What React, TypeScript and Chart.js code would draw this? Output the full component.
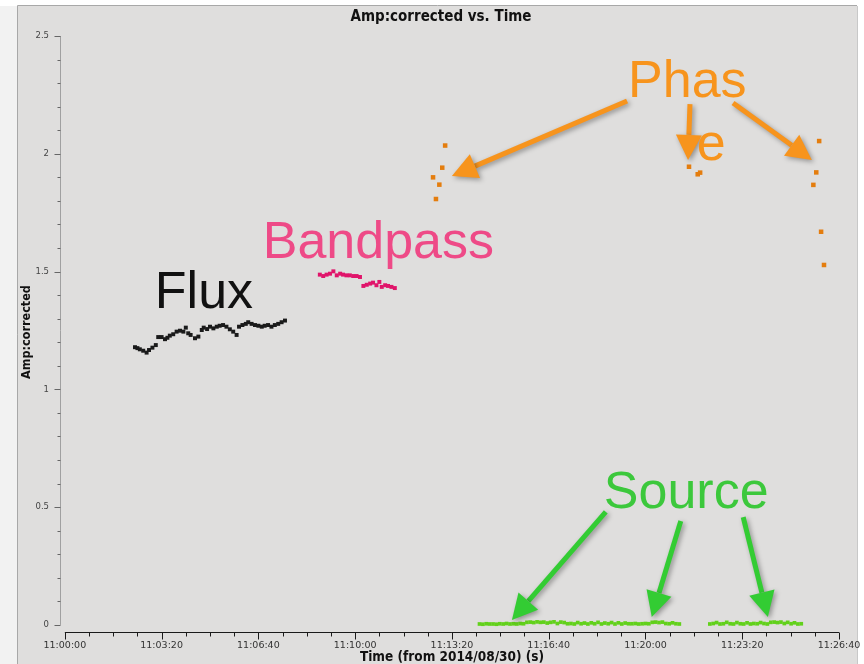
import React, { useEffect, useRef } from 'react';
import { Chart, registerables } from 'chart.js';
Chart.register(...registerables);

// ---- Data (time in seconds after 2014/08/30 11:00:00, amplitude) ----
const fluxTimes = [145,150,155,162,169,174,181,188,193,200,207,212,217,224,231,238,245,250,255,260,269,276,283,287,294,300,307,314,320,327,334,341,348,355,360,367,374,379,386,393,400,407,413,420,427,434,441,448,455];
const fluxAmp = [1.179,1.175,1.170,1.164,1.156,1.167,1.177,1.188,1.222,1.222,1.213,1.219,1.228,1.234,1.245,1.249,1.245,1.262,1.238,1.231,1.217,1.224,1.252,1.262,1.256,1.266,1.259,1.266,1.270,1.273,1.266,1.255,1.245,1.231,1.266,1.273,1.278,1.285,1.278,1.273,1.270,1.266,1.270,1.273,1.266,1.273,1.278,1.285,1.292];

const bandpassTimes = [527,534,541,548,555,562,569,575,582,589,596,603,610,617,624,631,637,644,650,655,662,668,675,682];
const bandpassAmp = [1.487,1.481,1.487,1.491,1.501,1.484,1.491,1.487,1.484,1.484,1.481,1.481,1.477,1.439,1.444,1.449,1.453,1.442,1.456,1.435,1.442,1.439,1.435,1.430];

const phaseTimes = [761,767,774,780,786,1290,1308,1313,1547,1553,1559,1563,1569];
const phaseAmp = [1.900,1.808,1.869,1.941,2.035,1.945,1.913,1.920,1.868,1.921,2.054,1.669,1.528];

const sourceTimes1 = [857,864,871,878,885,892,899,906,913,920,927,934,941,948,955,962,969,976,983,990,997,1004,1011,1018,1025,1032,1039,1046,1053,1060,1067,1074,1081,1088,1095,1102,1109,1116,1123,1130,1137,1144,1151,1158,1165,1172,1179,1186,1193,1200,1207,1214,1221,1228,1235,1242,1249,1256,1263,1270];
const sourceAmp1 = [0.004,0.003,0.005,0.004,0.004,0.003,0.005,0.004,0.006,0.004,0.005,0.004,0.006,0.005,0.011,0.012,0.010,0.013,0.011,0.012,0.008,0.011,0.013,0.006,0.012,0.010,0.005,0.006,0.004,0.010,0.005,0.008,0.004,0.009,0.005,0.011,0.004,0.008,0.005,0.010,0.004,0.009,0.004,0.008,0.005,0.005,0.006,0.004,0.005,0.006,0.005,0.011,0.012,0.010,0.012,0.006,0.005,0.009,0.005,0.004];
const sourceTimes2 = [1333,1340,1347,1354,1361,1368,1375,1382,1389,1396,1403,1410,1417,1424,1431,1438,1445,1452,1459,1466,1473,1480,1487,1494,1501,1508,1515,1522];
const sourceAmp2 = [0.004,0.006,0.010,0.004,0.005,0.011,0.005,0.004,0.010,0.005,0.004,0.009,0.004,0.006,0.005,0.010,0.006,0.004,0.011,0.012,0.010,0.012,0.006,0.011,0.005,0.009,0.004,0.005];

const yMajorTicks = [0, 0.5, 1, 1.5, 2, 2.5];
const yMinorStep = 0.1;
const xMajorTicks = [0, 200, 400, 600, 800, 1000, 1200, 1400, 1600];
const xMinorStep = 50;

const titleText = 'Amp:corrected vs. Time';
const xTitle = 'Time (from 2014/08/30) (s)';
const yTitle = 'Amp:corrected';

// annotations
const labelTexts = ['Flux', 'Bandpass', 'Phas', 'e', 'Source'];
const labelTimes = [186, 409, 1164, 1306, 1114];
const labelAmps = [1.345, 1.558, 2.241, 1.974, 0.497];
const labelColors = ['#111111', '#EE4A87', '#F7941D', '#F7941D', '#3CC83C'];

// arrows: from (t1,a1) to tip (t2,a2)
const arrowFromT = [1162, 1292, 1381, 1118, 1273, 1402];
const arrowFromA = [2.224, 2.211, 2.216, 0.480, 0.441, 0.458];
const arrowToT = [800, 1288, 1544, 924, 1213, 1453];
const arrowToA = [1.906, 1.974, 1.974, 0.021, 0.034, 0.034];
const arrowColors = ['#F7941D', '#F7941D', '#F7941D', '#33CC33', '#33CC33', '#33CC33'];

function fmtTime(s: number) {
  const total = 11 * 3600 + Math.round(s);
  const h = Math.floor(total / 3600);
  const m = Math.floor((total % 3600) / 60);
  const sec = total % 60;
  const p = (n: number) => (n < 10 ? '0' : '') + n;
  return `${p(h)}:${p(m)}:${p(sec)}`;
}

function toPts(ts: number[], vs: number[]) {
  return ts.map((t, i) => ({ x: t, y: vs[i] }));
}

function drawArrow(ctx: CanvasRenderingContext2D, x1: number, y1: number, x2: number, y2: number, color: string) {
  const ang = Math.atan2(y2 - y1, x2 - x1);
  const headLen = 25, headW = 13;
  const bx = x2 - headLen * Math.cos(ang), by = y2 - headLen * Math.sin(ang);
  ctx.save();
  ctx.shadowColor = 'rgba(0,0,0,0.35)';
  ctx.shadowBlur = 5;
  ctx.shadowOffsetX = 2;
  ctx.shadowOffsetY = 2;
  ctx.strokeStyle = color;
  ctx.fillStyle = color;
  ctx.lineWidth = 5;
  ctx.beginPath();
  ctx.moveTo(x1, y1);
  ctx.lineTo(bx, by);
  ctx.stroke();
  ctx.beginPath();
  ctx.moveTo(x2, y2);
  ctx.lineTo(bx + headW * Math.sin(ang), by - headW * Math.cos(ang));
  ctx.lineTo(bx - headW * Math.sin(ang), by + headW * Math.cos(ang));
  ctx.closePath();
  ctx.fill();
  ctx.restore();
}

const framePlugin = {
  id: 'frame',
  beforeDraw(chart: any) {
    const ctx = chart.ctx as CanvasRenderingContext2D;
    ctx.save();
    ctx.fillStyle = '#ffffff';
    ctx.fillRect(0, 0, chart.width, chart.height);
    ctx.fillStyle = '#f2f2f2';
    ctx.fillRect(0, 6, 17, chart.height);
    ctx.fillStyle = '#dfdedd';
    ctx.fillRect(17, 6, 840, chart.height - 6);
    ctx.strokeStyle = '#a8a8a8';
    ctx.lineWidth = 1;
    ctx.beginPath();
    ctx.moveTo(17.5, chart.height);
    ctx.lineTo(17.5, 5.5);
    ctx.lineTo(857, 5.5);
    ctx.stroke();
    ctx.strokeStyle = '#c8c8c8';
    ctx.beginPath();
    ctx.moveTo(857.5, 6);
    ctx.lineTo(857.5, chart.height);
    ctx.stroke();
    ctx.restore();
  },
  beforeDatasetsDraw(chart: any) {
    const ctx = chart.ctx as CanvasRenderingContext2D;
    const xs = chart.scales.x, ys = chart.scales.y;
    const ca = chart.chartArea;
    ctx.save();
    ctx.strokeStyle = '#a0a0a0';
    ctx.lineWidth = 1;
    const yl = Math.round(ca.left) + 0.5;
    ctx.beginPath();
    ctx.moveTo(yl, ys.getPixelForValue(2.5));
    ctx.lineTo(yl, ys.getPixelForValue(0));
    ctx.stroke();
    ctx.strokeStyle = '#666666';
    for (let i = 0; i <= 25; i++) {
      const v = i * yMinorStep;
      const major = yMajorTicks.some((m) => Math.abs(m - v) < 1e-6);
      const py = Math.round(ys.getPixelForValue(v)) + 0.5;
      ctx.beginPath();
      ctx.moveTo(yl - (major ? 6 : 3), py);
      ctx.lineTo(yl, py);
      ctx.stroke();
    }
    const xb = Math.round(ca.bottom) + 0.5;
    ctx.strokeStyle = '#1a1a1a';
    ctx.beginPath();
    ctx.moveTo(xs.getPixelForValue(0), xb);
    ctx.lineTo(xs.getPixelForValue(1600), xb);
    ctx.stroke();
    for (let t = 0; t <= 1600; t += xMinorStep) {
      const major = xMajorTicks.includes(t);
      const px = Math.round(xs.getPixelForValue(t)) + 0.5;
      ctx.beginPath();
      ctx.moveTo(px, xb);
      ctx.lineTo(px, xb + (major ? 7 : 4));
      ctx.stroke();
    }
    ctx.restore();
  },
  afterDraw(chart: any) {
    const ctx = chart.ctx as CanvasRenderingContext2D;
    const xs = chart.scales.x, ys = chart.scales.y;
    ctx.save();
    ctx.fillStyle = '#111111';
    ctx.textAlign = 'center';
    ctx.textBaseline = 'middle';
    ctx.font = 'bold 15px "DejaVu Sans Condensed", "DejaVu Sans"';
    ctx.fillText(titleText, 441, 17);
    ctx.font = 'bold 13.5px "DejaVu Sans Condensed", "DejaVu Sans"';
    ctx.fillText(xTitle, 452, 657);
    ctx.save();
    ctx.translate(27, 332);
    ctx.rotate(-Math.PI / 2);
    ctx.font = 'bold 12.5px "DejaVu Sans Condensed", "DejaVu Sans"';
    ctx.fillText(yTitle, 0, 0);
    ctx.restore();
    for (let i = 0; i < arrowFromT.length; i++) {
      drawArrow(ctx,
        xs.getPixelForValue(arrowFromT[i]), ys.getPixelForValue(arrowFromA[i]),
        xs.getPixelForValue(arrowToT[i]), ys.getPixelForValue(arrowToA[i]),
        arrowColors[i]);
    }
    ctx.textAlign = 'left';
    ctx.textBaseline = 'alphabetic';
    ctx.font = '52px "Liberation Sans", Arial, sans-serif';
    for (let i = 0; i < labelTexts.length; i++) {
      ctx.fillStyle = labelColors[i];
      ctx.fillText(labelTexts[i], xs.getPixelForValue(labelTimes[i]), ys.getPixelForValue(labelAmps[i]));
    }
    ctx.restore();
  },
};

export default function App() {
  const ref = useRef<HTMLCanvasElement>(null);
  useEffect(() => {
    const canvas = ref.current!;
    const chart = new Chart(canvas, {
      type: 'scatter',
      data: {
        datasets: [
          { label: 'Flux', data: toPts(fluxTimes, fluxAmp), backgroundColor: '#1a1a1a', borderColor: '#1a1a1a', pointStyle: 'rect', pointRadius: 2.8, borderWidth: 0 },
          { label: 'Bandpass', data: toPts(bandpassTimes, bandpassAmp), backgroundColor: '#E0146A', borderColor: '#E0146A', pointStyle: 'rect', pointRadius: 2.8, borderWidth: 0 },
          { label: 'Phase', data: toPts(phaseTimes, phaseAmp), backgroundColor: '#E47D0E', borderColor: '#E47D0E', pointStyle: 'rect', pointRadius: 3.2, borderWidth: 0 },
          { label: 'Source1', data: toPts(sourceTimes1, sourceAmp1), backgroundColor: '#62D11B', borderColor: '#62D11B', pointStyle: 'rect', pointRadius: 2.6, borderWidth: 0 },
          { label: 'Source2', data: toPts(sourceTimes2, sourceAmp2), backgroundColor: '#62D11B', borderColor: '#62D11B', pointStyle: 'rect', pointRadius: 2.6, borderWidth: 0 },
        ],
      },
      options: {
        responsive: false,
        animation: false,
        events: [],
        layout: { padding: { left: 0, right: 25, top: 36, bottom: 0 } },
        plugins: { legend: { display: false }, tooltip: { enabled: false }, title: { display: false } },
        scales: {
          x: {
            type: 'linear',
            min: -10,
            max: 1600,
            afterFit: (s: any) => { s.height = 32; },
            afterBuildTicks: (s: any) => { s.ticks = xMajorTicks.map((v) => ({ value: v })); },
            grid: { display: true, drawOnChartArea: false, drawTicks: true, tickLength: 6, color: 'rgba(0,0,0,0)' },
            border: { display: false },
            ticks: {
              autoSkip: false,
              maxRotation: 0,
              minRotation: 0,
              padding: 2,
              color: '#333333',
              font: { family: '"DejaVu Sans", sans-serif', size: 9.5 },
              callback: (v: any) => fmtTime(Number(v)),
            },
          },
          y: {
            type: 'linear',
            min: -0.03,
            max: 2.5,
            afterFit: (s: any) => { s.width = 60; },
            afterBuildTicks: (s: any) => { s.ticks = yMajorTicks.map((v) => ({ value: v })); },
            grid: { display: true, drawOnChartArea: false, drawTicks: true, tickLength: 6, color: 'rgba(0,0,0,0)' },
            border: { display: false },
            ticks: {
              autoSkip: false,
              padding: 5,
              color: '#444444',
              font: { family: '"DejaVu Sans", sans-serif', size: 8.5 },
              callback: (v: any) => String(v),
            },
          },
        },
      },
      plugins: [framePlugin],
    });
    return () => chart.destroy();
  }, []);
  return (
    <div style={{ position: 'fixed', left: 0, top: 0, width: 864, height: 664 }}>
      <canvas ref={ref} width={864} height={664} style={{ width: 864, height: 664, display: 'block' }} />
    </div>
  );
}
